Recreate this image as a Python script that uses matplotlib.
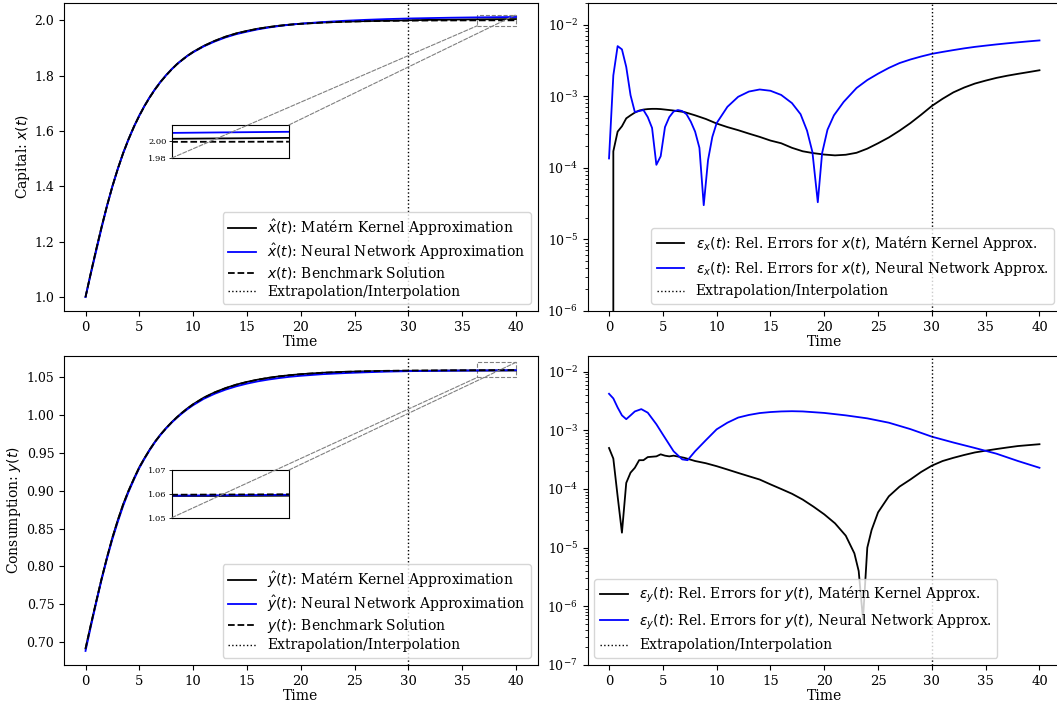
import numpy as np
import matplotlib
matplotlib.use("Agg")
import matplotlib.pyplot as plt
from matplotlib.patches import Rectangle, ConnectionPatch

plt.rcParams['font.family'] = 'serif'
plt.rcParams['font.size'] = 10
plt.rcParams['xtick.labelsize'] = 9.5
plt.rcParams['ytick.labelsize'] = 9

# ---------------- data ----------------
t_lvl = [0, 0.5, 1, 1.5, 2, 2.5, 3, 3.5, 4, 4.5, 5, 5.5, 6, 6.5, 7, 7.5, 8, 8.5, 9, 9.5, 10,
         11, 12, 13, 14, 15, 16, 17, 18, 19, 20, 22, 24, 26, 28, 30, 32, 34, 36, 38, 40]

x_bench = [1.0000, 1.0880, 1.1730, 1.2540, 1.3300, 1.4000, 1.4630, 1.5200, 1.5700, 1.6150,
           1.6550, 1.6910, 1.7230, 1.7520, 1.7780, 1.8010, 1.8220, 1.8410, 1.8570, 1.8720,
           1.8850, 1.9070, 1.9250, 1.9400, 1.9520, 1.9610, 1.9690, 1.9750, 1.9800, 1.9840,
           1.9870, 1.9915, 1.9945, 1.9964, 1.9977, 1.9985, 1.9990, 1.9993, 1.9995, 1.9996, 1.9997]
x_mk = [1.0000, 1.0882, 1.1734, 1.2546, 1.3307, 1.4008, 1.4639, 1.5210, 1.5710, 1.6161,
        1.6561, 1.6921, 1.7241, 1.7531, 1.7791, 1.8020, 1.8230, 1.8419, 1.8579, 1.8728,
        1.8858, 1.9077, 1.9256, 1.9406, 1.9525, 1.9615, 1.9694, 1.9754, 1.9803, 1.9843,
        1.9873, 1.9918, 1.9949, 1.9969, 1.9985, 1.9999, 2.0013, 2.0023, 2.0031, 2.0037, 2.0043]
x_nn = [0.9999, 1.0851, 1.1674, 1.2502, 1.3286, 1.3992, 1.4621, 1.5192, 1.5694, 1.6148,
        1.6554, 1.6918, 1.7241, 1.7531, 1.7790, 1.8019, 1.8226, 1.8413, 1.8569, 1.8716,
        1.8842, 1.9057, 1.9231, 1.9378, 1.9496, 1.9587, 1.9670, 1.9735, 1.9791, 1.9838,
        1.9877, 1.9933, 1.9979, 2.0014, 2.0042, 2.0063, 2.0078, 2.0092, 2.0102, 2.0110, 2.0117]

y_bench = [0.6910, 0.7230, 0.7540, 0.7840, 0.8120, 0.8380, 0.8610, 0.8820, 0.9000, 0.9160,
           0.9310, 0.9435, 0.9551, 0.9656, 0.9748, 0.9830, 0.9905, 0.9973, 1.0035, 1.0092,
           1.0144, 1.0232, 1.0301, 1.0357, 1.0403, 1.0440, 1.0470, 1.0494, 1.0514, 1.0530,
           1.0543, 1.0562, 1.0574, 1.0582, 1.0588, 1.0591, 1.0593, 1.0595, 1.0596, 1.0597, 1.0598]
y_mk = [0.6913, 0.7232, 0.7540, 0.7841, 0.8122, 0.8382, 0.8613, 0.8823, 0.9003, 0.9163,
        0.9314, 0.9438, 0.9555, 0.9659, 0.9751, 0.9833, 0.9908, 0.9976, 1.0038, 1.0095,
        1.0146, 1.0234, 1.0303, 1.0359, 1.0405, 1.0441, 1.0471, 1.0495, 1.0515, 1.0530,
        1.0543, 1.0562, 1.0574, 1.0581, 1.0586, 1.0588, 1.0589, 1.0591, 1.0591, 1.0591, 1.0592]
y_nn = [0.6881, 0.7208, 0.7523, 0.7828, 0.8105, 0.8362, 0.8590, 0.8802, 0.8986, 0.9149,
        0.9302, 0.9429, 0.9547, 0.9653, 0.9745, 0.9827, 0.9901, 0.9968, 1.0028, 1.0083,
        1.0133, 1.0218, 1.0284, 1.0338, 1.0382, 1.0418, 1.0448, 1.0472, 1.0492, 1.0509,
        1.0522, 1.0543, 1.0557, 1.0568, 1.0577, 1.0583, 1.0587, 1.0590, 1.0592, 1.0594, 1.0596]

# relative errors, capital
t_ex_mk = [0, 0.4, 0.8, 1.2, 1.6, 2.0, 2.4, 2.8, 3.2, 3.6, 4.0, 4.4, 4.8, 5.2, 6, 7, 8, 9, 10,
           11, 12, 13, 14, 15, 16, 17, 18, 19, 20, 21, 22, 23, 24, 25, 26, 27, 28, 29, 30,
           31, 32, 33, 34, 35, 36, 37, 38, 39, 40]
ex_mk = [0.0, 1.7e-4, 3.2e-4, 3.8e-4, 4.9e-4, 5.4e-4, 5.9e-4, 6.3e-4, 6.5e-4, 6.6e-4, 6.65e-4,
         6.65e-4, 6.6e-4, 6.5e-4, 6.3e-4, 6.0e-4, 5.4e-4, 4.8e-4, 4.15e-4, 3.7e-4, 3.35e-4,
         3.0e-4, 2.7e-4, 2.4e-4, 2.2e-4, 1.9e-4, 1.7e-4, 1.6e-4, 1.53e-4, 1.49e-4, 1.52e-4,
         1.62e-4, 1.85e-4, 2.2e-4, 2.65e-4, 3.3e-4, 4.2e-4, 5.5e-4, 7.3e-4, 9.2e-4, 1.13e-3,
         1.32e-3, 1.5e-3, 1.65e-3, 1.8e-3, 1.93e-3, 2.05e-3, 2.17e-3, 2.3e-3]
t_ex_nn = [0, 0.4, 0.8, 1.2, 1.6, 2.0, 2.4, 2.8, 3.2, 3.6, 4.0, 4.4, 4.8, 5.2, 5.6, 6.0, 6.4,
           6.8, 7.2, 7.6, 8.0, 8.4, 8.8, 9.2, 9.6, 10, 11, 12, 13, 14, 15, 16, 17, 17.8, 18.4,
           18.9, 19.4, 19.8, 20.3, 20.9, 21.8, 23, 24, 25, 26, 27, 28, 29, 30, 31, 32, 33, 34,
           35, 36, 37, 38, 39, 40]
ex_nn = [1.35e-4, 1.95e-3, 5.0e-3, 4.5e-3, 2.56e-3, 1.03e-3, 6.0e-4, 6.2e-4, 6.4e-4, 5.1e-4,
         3.6e-4, 1.1e-4, 1.45e-4, 3.7e-4, 5.1e-4, 6.1e-4, 6.4e-4, 6.2e-4, 5.6e-4, 4.4e-4,
         3.2e-4, 1.9e-4, 3.0e-5, 1.28e-4, 2.7e-4, 4.2e-4, 7.1e-4, 9.8e-4, 1.16e-3, 1.24e-3,
         1.19e-3, 1.04e-3, 8.0e-4, 5.6e-4, 3.3e-4, 1.66e-4, 3.3e-5, 1.6e-4, 3.4e-4, 5.4e-4,
         8.3e-4, 1.3e-3, 1.68e-3, 2.06e-3, 2.48e-3, 2.9e-3, 3.25e-3, 3.58e-3, 3.9e-3, 4.15e-3,
         4.4e-3, 4.65e-3, 4.88e-3, 5.08e-3, 5.28e-3, 5.47e-3, 5.65e-3, 5.83e-3, 6.0e-3]

# relative errors, consumption
t_ey_mk = [0, 0.4, 0.8, 1.2, 1.6, 2.0, 2.4, 2.8, 3.2, 3.6, 4.4, 4.8, 5.2, 5.6, 6, 7, 8, 9, 10,
           11, 12, 13, 14, 15, 16, 17, 18, 19, 20, 21, 22, 22.8, 23.2, 23.6, 24.0, 24.4, 25,
           26, 27, 28, 29, 30, 31, 32, 33, 34, 35, 36, 37, 38, 39, 40]
ey_mk = [5.0e-4, 3.3e-4, 7.5e-5, 1.8e-5, 1.27e-4, 1.9e-4, 2.3e-4, 3.1e-4, 3.1e-4, 3.5e-4,
         3.6e-4, 3.9e-4, 3.7e-4, 3.6e-4, 3.7e-4, 3.4e-4, 3.0e-4, 2.75e-4, 2.45e-4, 2.15e-4,
         1.88e-4, 1.65e-4, 1.45e-4, 1.2e-4, 1.0e-4, 8.3e-5, 6.6e-5, 5.0e-5, 3.7e-5, 2.6e-5,
         1.6e-5, 8e-6, 4e-6, 6e-7, 1.0e-5, 2.0e-5, 4.0e-5, 7.5e-5, 1.1e-4, 1.45e-4, 1.95e-4,
         2.5e-4, 3.0e-4, 3.4e-4, 3.8e-4, 4.2e-4, 4.5e-4, 4.8e-4, 5.1e-4, 5.4e-4, 5.6e-4, 5.8e-4]
t_ey_nn = [0, 0.4, 0.8, 1.2, 1.6, 2.0, 2.4, 3.0, 3.6, 4.4, 5, 6, 6.8, 7.3, 8, 9, 10, 11, 12,
           13, 14, 15, 16, 17, 18, 20, 22, 24, 26, 28, 30, 32, 34, 36, 38, 40]
ey_nn = [4.2e-3, 3.5e-3, 2.45e-3, 1.8e-3, 1.55e-3, 1.8e-3, 2.1e-3, 2.3e-3, 2.0e-3, 1.27e-3,
         8.5e-4, 4.4e-4, 3.2e-4, 3.1e-4, 4.4e-4, 6.8e-4, 1.04e-3, 1.35e-3, 1.65e-3, 1.83e-3,
         1.97e-3, 2.05e-3, 2.1e-3, 2.12e-3, 2.1e-3, 1.98e-3, 1.8e-3, 1.6e-3, 1.35e-3, 1.05e-3,
         7.8e-4, 6.2e-4, 5.0e-4, 4.0e-4, 3.0e-4, 2.3e-4]

t_split = 30

# ---------------- figure ----------------
W, H = 1057, 702
fig = plt.figure(figsize=(W / 100, H / 100), dpi=100)

def px_axes(x0, y0, x1, y1):
    return fig.add_axes([x0 / W, 1 - y1 / H, (x1 - x0) / W, (y1 - y0) / H])

ax1 = px_axes(64, 3, 537.5, 311)
ax2 = px_axes(587.5, 3, 1061, 311)
ax3 = px_axes(64, 356, 537.5, 665)
ax4 = px_axes(587.5, 356, 1061, 665)

lw = 1.3

def level_panel(ax, mk, nn, bench, sym, ylabel, ylab_x, ins_box, ins_ylim, ins_ticks):
    ax.plot(t_lvl, mk, color='k', lw=lw, label=r'$\hat{%s}(t)$: Matérn Kernel Approximation' % sym)
    ax.plot(t_lvl, nn, color='b', lw=lw, label=r'$\hat{%s}(t)$: Neural Network Approximation' % sym)
    ax.plot(t_lvl, bench, color='k', ls='--', lw=lw, label=r'$%s(t)$: Benchmark Solution' % sym)
    ax.axvline(t_split, color='k', ls=':', lw=1.0, label='Extrapolation/Interpolation')
    ax.set_xlabel('Time', labelpad=1)
    ax.set_ylabel(ylabel)
    ax.yaxis.set_label_coords(ylab_x, 0.5)
    ax.set_xticks(range(0, 41, 5))
    ax.legend(loc='lower right', labelspacing=0.25)

    axins = ax.inset_axes(ins_box)
    axins.plot(t_lvl, mk, color='k', lw=lw)
    axins.plot(t_lvl, nn, color='b', lw=lw)
    axins.plot(t_lvl, bench, color='k', ls='--', lw=lw)
    x0, x1 = 36.4, 40
    y0, y1 = ins_ylim
    axins.set_xlim(x0, x1)
    axins.set_ylim(y0, y1)
    axins.set_xticks([])
    axins.set_yticks(ins_ticks)
    axins.set_yticklabels(['%.2f' % v for v in ins_ticks])
    axins.tick_params(axis='y', labelsize=6, length=2.5, width=0.6, pad=1.5)

    ax.add_patch(Rectangle((x0, y0), x1 - x0, y1 - y0, fill=False, ec='0.5', ls='--', lw=0.8))
    for ca, cb in [((0, 0), (x0, y0)), ((1, 1), (x1, y1))]:
        con = ConnectionPatch(xyA=ca, coordsA=axins.transAxes, xyB=cb, coordsB=ax.transData,
                              color='0.5', ls='--', lw=0.8, zorder=5)
        fig.add_artist(con)


level_panel(ax1, x_mk, x_nn, x_bench, 'x', r'Capital: $x(t)$', -0.067,
            [0.228, 0.497, 0.247, 0.107], (1.98, 2.02), [1.98, 2.00])
level_panel(ax3, y_mk, y_nn, y_bench, 'y', r'Consumption: $y(t)$', -0.086,
            [0.228, 0.477, 0.247, 0.154], (1.05, 1.07), [1.05, 1.06, 1.07])

ax2.plot(t_ex_mk, ex_mk, color='k', lw=lw,
         label=r'$\varepsilon_x(t)$: Rel. Errors for $x(t)$, Matérn Kernel Approx.')
ax2.plot(t_ex_nn, ex_nn, color='b', lw=lw,
         label=r'$\varepsilon_x(t)$: Rel. Errors for $x(t)$, Neural Network Approx.')
ax2.axvline(t_split, color='k', ls=':', lw=1.0, label='Extrapolation/Interpolation')
ax2.set_yscale('log')
ax2.set_ylim(1e-6, 2e-2)
ax2.set_xlabel('Time', labelpad=1)
ax2.set_xticks(range(0, 41, 5))
ax2.legend(loc='lower right')

ax4.plot(t_ey_mk, ey_mk, color='k', lw=lw,
         label=r'$\varepsilon_y(t)$: Rel. Errors for $y(t)$, Matérn Kernel Approx.')
ax4.plot(t_ey_nn, ey_nn, color='b', lw=lw,
         label=r'$\varepsilon_y(t)$: Rel. Errors for $y(t)$, Neural Network Approx.')
ax4.axvline(t_split, color='k', ls=':', lw=1.0, label='Extrapolation/Interpolation')
ax4.set_yscale('log')
ax4.set_ylim(1e-7, 1.85e-2)
ax4.set_xlabel('Time', labelpad=1)
ax4.set_xticks(range(0, 41, 5))
ax4.legend(loc='lower left')

fig.savefig('out.png', dpi=100)
